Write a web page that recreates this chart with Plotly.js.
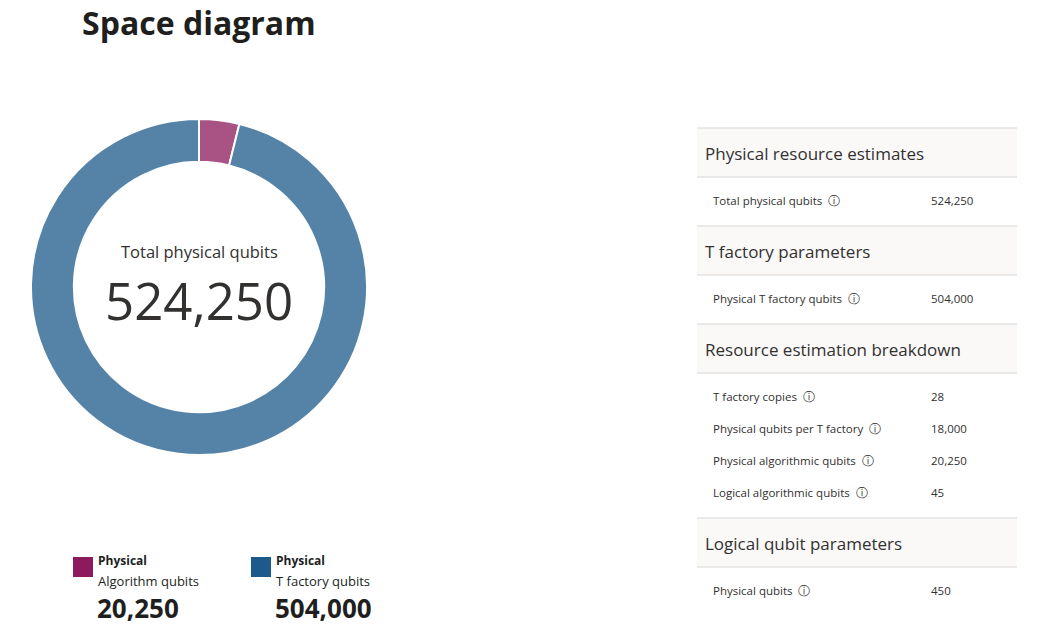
<!DOCTYPE html>
<html><head><meta charset="utf-8">
<script src="https://cdn.plot.ly/plotly-3.0.1.min.js"></script>
<style>html,body{margin:0;padding:0;background:#fff;}#chart{width:1043px;height:633px;}</style>
</head><body><div id="chart"></div>
<script>
// ---- data ----
const sliceLabels = ["Physical Algorithm qubits", "Physical T factory qubits"];
const sliceValues = [20250, 504000];
const sliceColors = ["#8c1a5c", "#1b5a8a"];
const legendTop = ["Physical", "Physical"];
const legendBottom = ["Algorithm qubits", "T factory qubits"];
const centerLabel = "Total physical qubits";

const sectionTitles = ["Physical resource estimates", "T factory parameters", "Resource estimation breakdown", "Logical qubit parameters"];
const rowSection = [0, 1, 2, 2, 2, 2, 3];
const rowLabels = ["Total physical qubits", "Physical T factory qubits", "T factory copies", "Physical qubits per T factory", "Physical algorithmic qubits", "Logical algorithmic qubits", "Physical qubits"];
const rowValues = ["524,250", "504,000", "28", "18,000", "20,250", "45", "450"];

const FONT = "'Segoe UI', 'Open Sans', 'Noto Sans', sans-serif";
const W = 1043, H = 633;
const fmt = v => v.toLocaleString("en-US");
const total = sliceValues.reduce((a, b) => a + b, 0);

const shapes = [], ann = [];
function txt(x, y, text, size, opts) {
  ann.push(Object.assign({x: x, y: y, xref: "x", yref: "y", text: text, showarrow: false, xanchor: "left", yanchor: "middle", borderpad: 0,
    font: {family: FONT, size: size, color: "#323130"}}, opts || {}));
}
// title
txt(81, 22, "<b>Space diagram</b>", 32, {font: {family: FONT, size: 32, color: "#201f1e"}});
// center text
txt(199, 264, centerLabel, 16.5, {xanchor: "center", yanchor: "bottom"});
txt(199, 264, fmt(total), 51, {xanchor: "center", yanchor: "top"});
// legend
const legX = [73, 251];
for (let i = 0; i < sliceValues.length; i++) {
  const x0 = legX[i];
  shapes.push({type: "rect", xref: "x", yref: "y", x0: x0, x1: x0 + 20, y0: 557, y1: 577, fillcolor: sliceColors[i], line: {width: 0}});
  txt(x0 + 24, 570, "<b>" + legendTop[i] + "</b>", 12, {yanchor: "bottom", font: {family: FONT, size: 12, color: "#201f1e"}});
  txt(x0 + 24, 570.5, legendBottom[i], 13, {yanchor: "top", font: {family: FONT, size: 13, color: "#201f1e"}});
  txt(x0 + 23, 588.5, "<b>" + fmt(sliceValues[i]) + "</b>", 26, {yanchor: "top", font: {family: FONT, size: 26, color: "#201f1e"}});
}
// table
const TL = 697, TR = 1017;
let y = 128;
for (let s = 0; s < sectionTitles.length; s++) {
  shapes.push({type: "rect", xref: "x", yref: "y", x0: TL, x1: TR, y0: y, y1: y + 49, fillcolor: "#faf9f8", line: {width: 0}, layer: "below"});
  shapes.push({type: "line", xref: "x", yref: "y", x0: TL, x1: TR, y0: y, y1: y, line: {color: "#d8d6d4", width: 1}});
  txt(704, y + 25, sectionTitles[s], 17);
  y += 49;
  shapes.push({type: "line", xref: "x", yref: "y", x0: TL, x1: TR, y0: y, y1: y, line: {color: "#d8d6d4", width: 1}});
  let ry = y + 23;
  let last = ry;
  for (let r = 0; r < rowLabels.length; r++) {
    if (rowSection[r] !== s) continue;
    txt(712, ry, rowLabels[r] + "  \u24D8", 11.5);
    txt(930, ry, rowValues[r], 11.5);
    last = ry;
    ry += 32;
  }
  y = last + 26;
}

const pie = {
  type: "pie", values: sliceValues, labels: sliceLabels, hole: 0.745, sort: false,
  direction: "clockwise", rotation: 0, textinfo: "none", hoverinfo: "label+value",
  marker: {colors: sliceColors, line: {color: "#ffffff", width: 2}}, opacity: 0.75,
  domain: {x: [31 / W, 367 / W], y: [1 - 455 / H, 1 - 119 / H]}, showlegend: false
};

const layout = {
  width: W, height: H, margin: {l: 0, r: 0, t: 0, b: 0}, paper_bgcolor: "#fff", plot_bgcolor: "rgba(0,0,0,0)",
  showlegend: false,
  xaxis: {range: [0, W], visible: false, fixedrange: true},
  yaxis: {range: [H, 0], visible: false, fixedrange: true},
  shapes: shapes, annotations: ann
};
Plotly.newPlot("chart", [pie], layout, {displayModeBar: false, staticPlot: true});
</script></body></html>
